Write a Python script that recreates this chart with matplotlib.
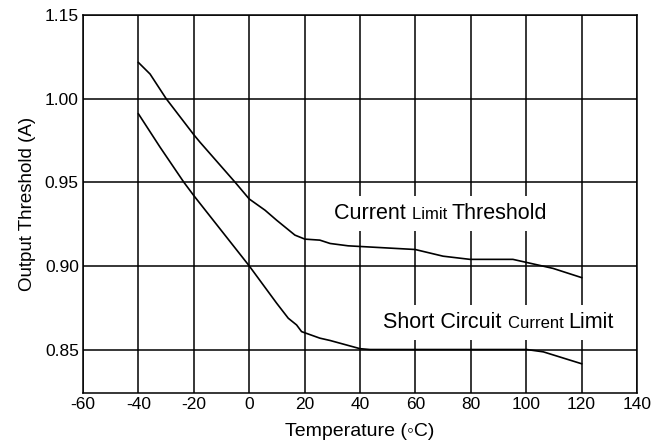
import matplotlib
matplotlib.use("Agg")
import matplotlib.pyplot as plt
from matplotlib.offsetbox import TextArea, HPacker, AnnotationBbox

plt.rcParams['font.family'] = ['Liberation Sans', 'DejaVu Sans']
plt.rcParams['axes.unicode_minus'] = False

# Current Limit Threshold
temp_clt = [-40, -35.8, -30, -20, -17.8, -5.1, 0, 5.7, 9.9, 16.5, 20.1, 25.5, 29.2, 35.7, 59.9, 70, 79.7,
            95.2, 109.7, 120]
val_clt = [1.0216, 1.0147, 1.000, 0.9784, 0.974, 0.950, 0.940, 0.9333, 0.9273, 0.9184, 0.916, 0.9154,
           0.9134, 0.912, 0.9098, 0.9058, 0.9039, 0.9039, 0.8985, 0.893]

# Short Circuit Current Limit
temp_scl = [-40, -32.2, -23.6, -20, -10, 0, 9.9, 14.1, 17.1, 18.9, 25.5, 29.2, 40, 43.6, 100.2, 106.2, 120]
val_scl = [0.9909, 0.971, 0.950, 0.942, 0.921, 0.900, 0.8777, 0.8687, 0.8647, 0.8607, 0.8568, 0.8554,
           0.8505, 0.850, 0.850, 0.8486, 0.8415]

xticks = [-60, -40, -20, 0, 20, 40, 60, 80, 100, 120, 140]
yticks = [0.85, 0.90, 0.95, 1.00, 1.05]
ytick_labels = ['0.85', '0.90', '0.95', '1.00', '1.15']

fig = plt.figure(figsize=(6.59, 4.46), dpi=100)
ax = fig.add_axes([0.126, 0.1188, 0.8406, 0.8476])

ax.plot(temp_clt, val_clt, color='black', lw=1.2, zorder=3)
ax.plot(temp_scl, val_scl, color='black', lw=1.2, zorder=3)

ax.set_xlim(-60, 140)
ax.set_ylim(0.824, 1.0495)
ax.set_xticks(xticks)
ax.set_yticks(yticks)
ax.set_yticklabels(ytick_labels)
ax.tick_params(length=0, labelsize=12.5, pad=3)
ax.grid(True, color='black', lw=1.1)
for s in ax.spines.values():
    s.set_linewidth(1.1)

ax.set_xlabel('Temperature (\u25e6C)', fontsize=14, labelpad=8)
ax.set_ylabel('Output Threshold (A)', fontsize=13.5, labelpad=6)


# labels with a smaller middle word
def mixed_label(parts, xy):
    boxes = [TextArea(t, textprops=dict(fontsize=fs, color='black')) for t, fs in parts]
    pack = HPacker(children=boxes, align='baseline', pad=0, sep=0)
    ab = AnnotationBbox(pack, xy, xycoords='data', frameon=True, pad=0.5,
                        bboxprops=dict(facecolor='white', edgecolor='none'), zorder=4)
    ax.add_artist(ab)


mixed_label([('Current ', 15.5), ('Limit ', 12), ('Threshold', 15.5)], (69.2, 0.9315))
mixed_label([('Short Circuit ', 15.5), ('Current ', 12), ('Limit', 15.5)], (90, 0.866))

fig.savefig('out.png', dpi=100)
